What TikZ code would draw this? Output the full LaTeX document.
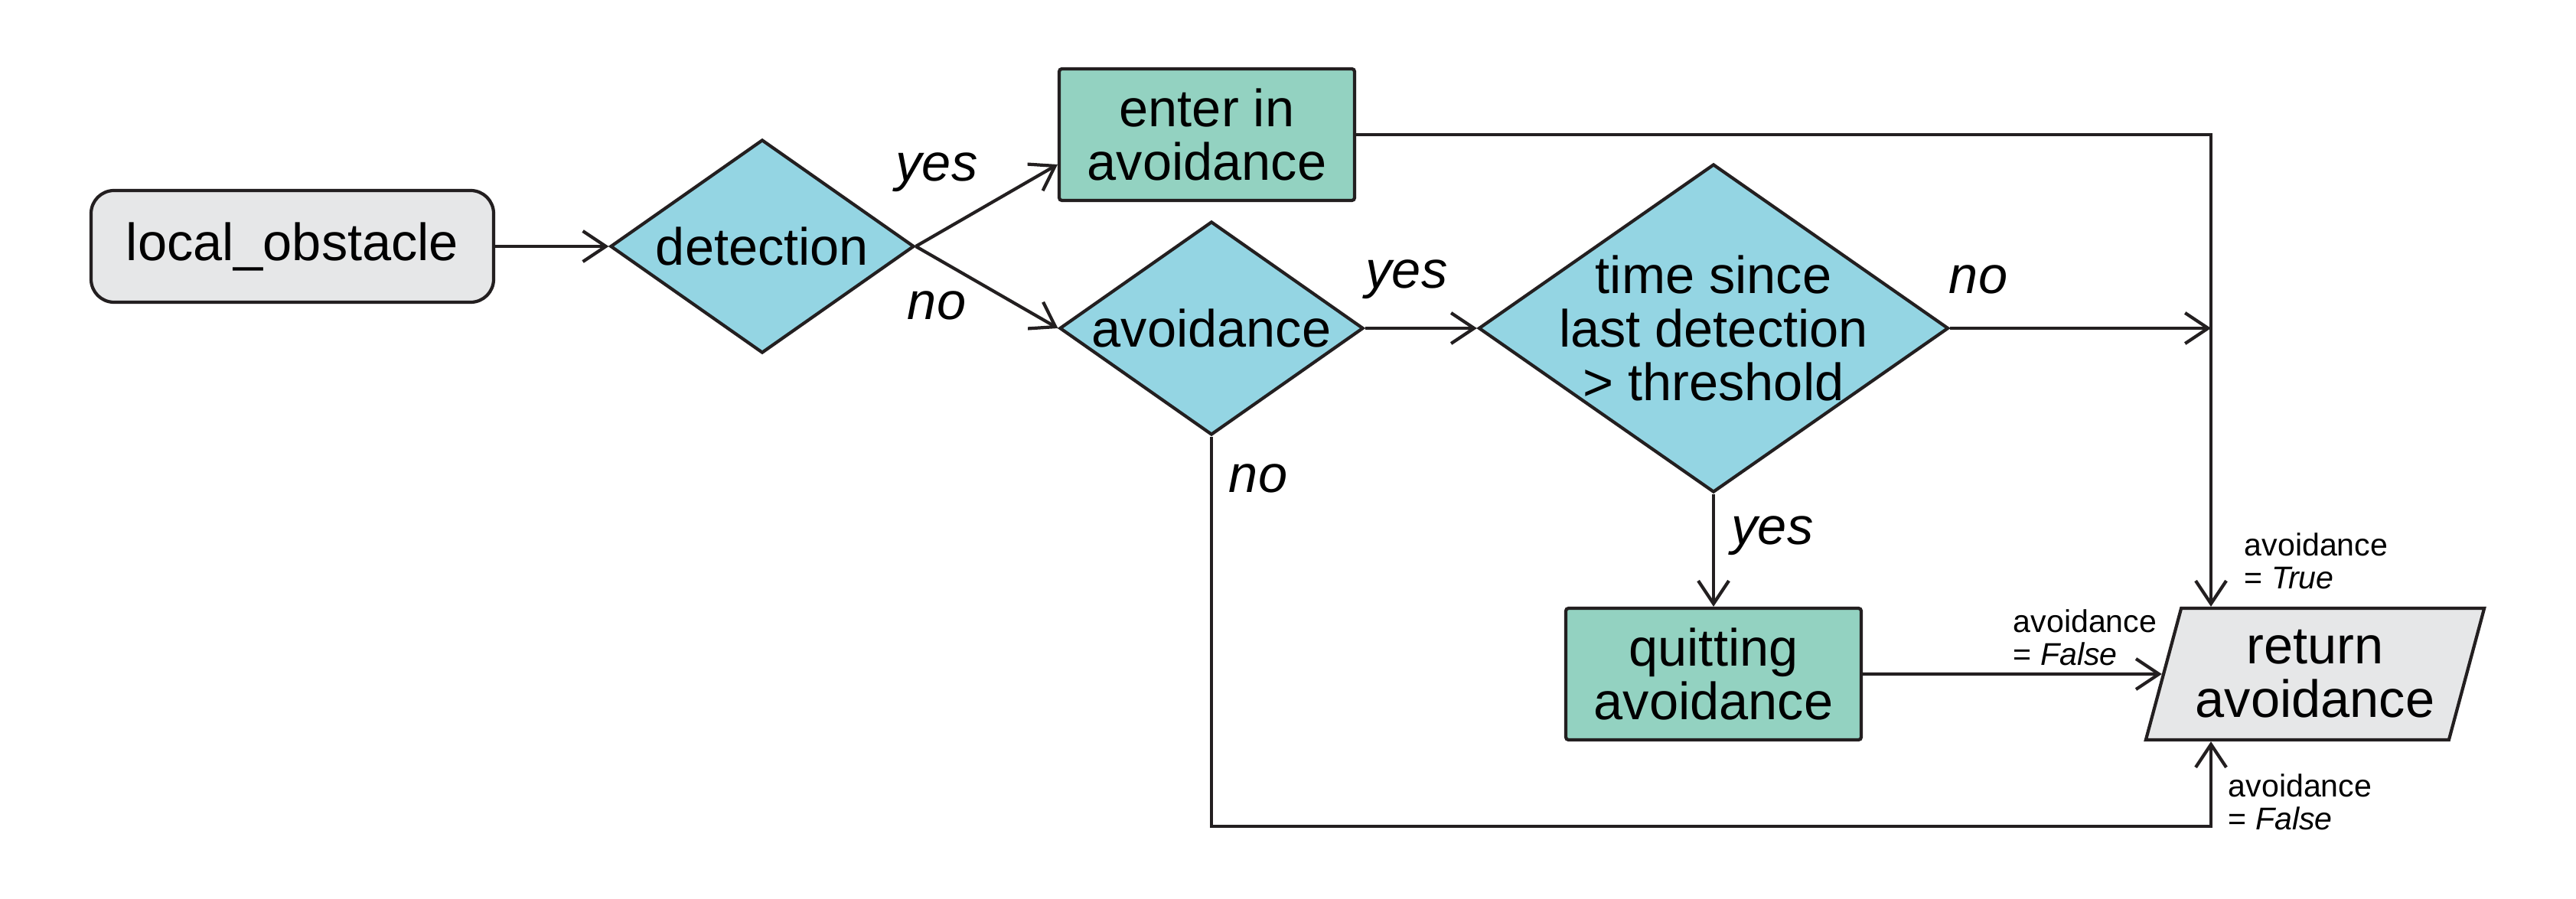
\documentclass[tikz,border=0pt]{standalone}
\usepackage{fontspec}
\setmainfont{Liberation Sans}
\usepackage{xcolor}
\definecolor{flowDecision}{HTML}{94D5E3}
\definecolor{flowAction}{HTML}{93D2C1}
\definecolor{flowTerminal}{HTML}{E6E7E8}
\definecolor{flowLine}{HTML}{231F20}
\usetikzlibrary{shapes.geometric, arrows.meta}

\tikzset{
  bigtext/.style={font=\fontsize{19.5}{20}\selectfont},
  answer/.style={font=\fontsize{19.5}{20}\selectfont\itshape},
  smalltext/.style={font=\fontsize{11.7}{12.2}\selectfont, align=left, anchor=west, inner sep=0pt},
  decision/.style={diamond, aspect=1.42, draw=flowLine, line width=1.2pt, fill=flowDecision, inner sep=0pt, bigtext},
  action/.style={rectangle, draw=flowLine, line width=1.2pt, fill=flowAction, rounded corners=1pt, minimum width=3.86cm, minimum height=1.72cm, align=center, bigtext},
  flow/.style={draw=flowLine, line width=1.2pt, -{Straight Barb[length=3mm, width=4mm]}},
}

\begin{document}
\begin{tikzpicture}
  \useasboundingbox[fill=white] (0,0) rectangle (33.66,11.74);
  \node[rectangle, rounded corners=0.3cm, draw=flowLine, line width=1.2pt, fill=flowTerminal, minimum width=5.26cm, minimum height=1.46cm, bigtext] (obst) at (3.82,8.52) {local\_obstacle};
  \node[decision, minimum width=3.97cm, minimum height=2.79cm] (detect) at (9.96,8.52) {detection};
  \node[action] (enter) at (15.77,9.98) {enter in\\avoidance};
  \node[decision, minimum width=3.97cm, minimum height=2.79cm] (avoid) at (15.83,7.45) {avoidance};
  \node[decision, minimum width=6.14cm, minimum height=4.29cm, label={[bigtext, align=center]center:time since\\last detection\\> threshold}] (time) at (22.39,7.45) {};
  \node[action] (quit) at (22.39,2.93) {quitting\\avoidance};
  \node[trapezium, trapezium left angle=72, trapezium right angle=108, trapezium stretches=true, draw=flowLine, line width=1.2pt, fill=flowTerminal, minimum width=4.43cm, minimum height=1.72cm, inner sep=1mm, align=center, bigtext] (ret) at (30.25,2.93) {return\\avoidance};

  \coordinate (rail) at (28.89,9.98);
  \coordinate (low) at (28.89,0.94);

  \draw[flow] (obst.east) -- (detect.west);
  \draw[flow] (detect.east) -- ([yshift=-3.9mm]enter.west);
  \draw[flow] (detect.east) -- (avoid.west);
  \draw[flow] (avoid.east) -- (time.west);
  \draw[flow] (time.east) -- (time.east -| rail);
  \draw[flow] (enter.east) -- (rail) -- (rail |- ret.north);
  \draw[flow] (quit.east) -- (ret.west);
  \draw[flow] (avoid.south) |- (low) -- (low |- ret.south);
  \draw[flow] (time.south) -- (quit.north);

  % branch answers
  \node[answer] (yes1) at (12.24,9.49) {yes};
  \node[answer] (no1) at (12.24,7.75) {no};
  \node[answer] (yes2) at (18.38,8.09) {yes};
  \node[answer] (no2) at (25.85,8.09) {no};
  \node[answer] (no3) at (16.44,5.49) {no};
  \node[answer] (yes3) at (23.16,4.74) {yes};

  % returned values
  \node[smalltext] (setTrue) at (29.32,4.41) {avoidance\\= \textit{True}};
  \node[smalltext] (setFalseA) at (26.30,3.41) {avoidance\\= \textit{False}};
  \node[smalltext] (setFalseB) at (29.11,1.26) {avoidance\\= \textit{False}};
\end{tikzpicture}
\end{document}
